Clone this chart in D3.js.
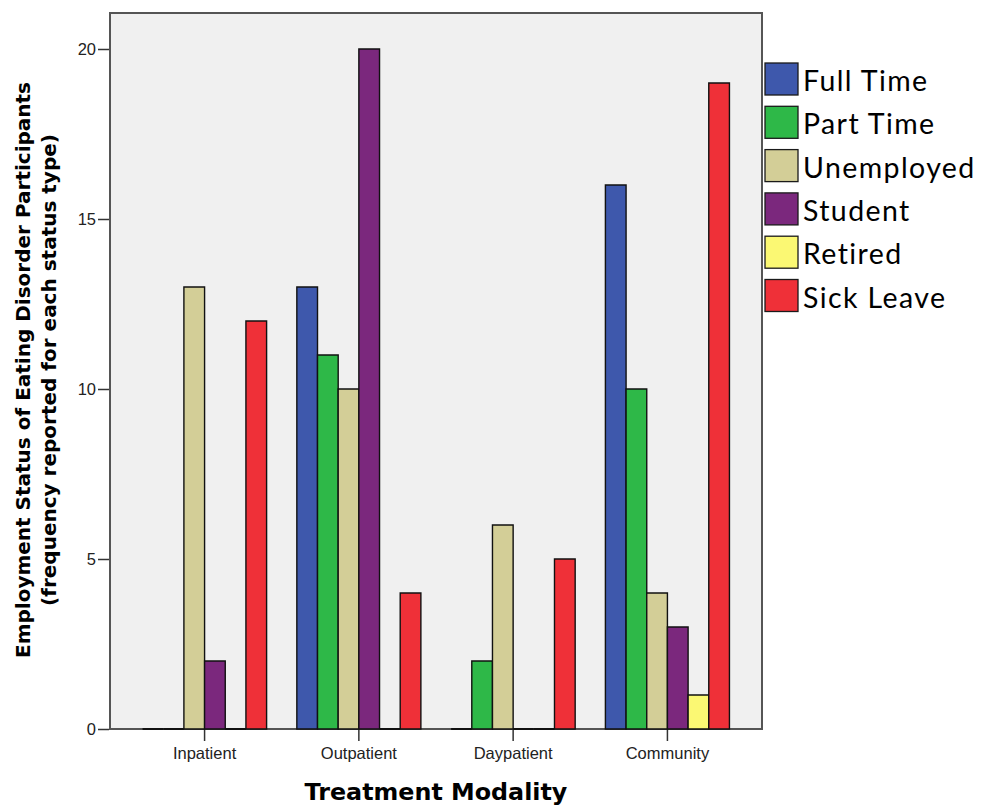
<!DOCTYPE html>
<html>
<head>
<meta charset="utf-8">
<script src="https://cdn.jsdelivr.net/npm/d3@7"></script>
<style>
  body { margin: 0; background: #fff; }
  .tick text { font-family: "Liberation Sans", Arial, sans-serif; font-size: 16.5px; fill: #222; }
  .axisTitle { font-family: "DejaVu Sans", Verdana, sans-serif; font-weight: bold; fill: #000; }
  .legendText { font-family: Lato, "Open Sans", sans-serif; font-size: 28.5px; letter-spacing: 1.4px; fill: #000; }
</style>
</head>
<body>
<div id="chart"></div>
<script>
// treatment modalities (x categories)
var modalities = ["Inpatient", "Outpatient", "Daypatient", "Community"];

// employment status series, one value per modality
var statuses = ["Full Time", "Part Time", "Unemployed", "Student", "Retired", "Sick Leave"];
var fullTime   = [0, 13, 0, 16];
var partTime   = [0, 11, 2, 10];
var unemployed = [13, 10, 6, 4];
var student    = [2, 20, 0, 3];
var retired    = [0, 0, 0, 1];
var sickLeave  = [12, 4, 5, 19];

var statusColors = ["#3e58ac", "#2eb848", "#d3ce97", "#7b287d", "#fbf873", "#ef3038"];
var yTicks = [0, 5, 10, 15, 20];

var seriesValues = [fullTime, partTime, unemployed, student, retired, sickLeave];

var width = 984,
    height = 805;

var plot = { left: 110, right: 762, top: 13, bottom: 729 };

var svg = d3.select("#chart")
    .append("svg")
    .attr("width", width)
    .attr("height", height);

// plot background + frame
svg.append("rect")
    .attr("x", plot.left)
    .attr("y", plot.top)
    .attr("width", plot.right - plot.left)
    .attr("height", plot.bottom - plot.top)
    .attr("fill", "#f0f0f0")
    .attr("stroke", "#555")
    .attr("stroke-width", 2);

var x0 = d3.scaleBand()
    .domain(modalities)
    .range([plot.left, plot.right])
    .paddingInner(0.196)
    .paddingOuter(0.211);

var x1 = d3.scaleBand()
    .domain(statuses)
    .range([0, x0.bandwidth()]);

var y = d3.scaleLinear()
    .domain([0, 20])
    .range([plot.bottom, 49]);

var color = d3.scaleOrdinal()
    .domain(statuses)
    .range(statusColors);

// flatten into one row per bar
var bars = [];
modalities.forEach(function(m, i) {
    statuses.forEach(function(s, j) {
        bars.push({ modality: m, status: s, value: seriesValues[j][i] });
    });
});

// bars drawn as paths so zero values still show as a black line on the baseline
svg.append("g")
    .selectAll("path")
    .data(bars)
    .enter()
    .append("path")
    .attr("d", function(d) {
        var bx = x0(d.modality) + x1(d.status),
            bw = x1.bandwidth(),
            top = y(d.value),
            base = y(0);
        return "M" + bx + "," + base + "V" + top + "H" + (bx + bw) + "V" + base + "Z";
    })
    .attr("fill", d => color(d.status))
    .attr("stroke", "#111")
    .attr("stroke-width", d => d.value == 0 ? 2.2 : 1.4);

// y axis
var yAxis = svg.append("g")
    .attr("transform", "translate(" + (plot.left - 1) + ",0)")
    .call(d3.axisLeft(y).tickValues(yTicks).tickSize(11).tickPadding(2));
yAxis.select(".domain").remove();
yAxis.selectAll(".tick line").attr("stroke", "#333").attr("stroke-width", 1.5);

// x axis
var xAxis = svg.append("g")
    .attr("transform", "translate(0," + (plot.bottom + 1) + ")")
    .call(d3.axisBottom(x0).tickSize(11).tickPadding(6));
xAxis.select(".domain").remove();
xAxis.selectAll(".tick line").attr("stroke", "#333").attr("stroke-width", 1.5);

// axis titles
svg.append("text")
    .attr("class", "axisTitle")
    .attr("x", 436)
    .attr("y", 800)
    .attr("text-anchor", "middle")
    .attr("font-size", "23.8px")
    .text("Treatment Modality");

var yTitle = svg.append("text")
    .attr("class", "axisTitle")
    .attr("transform", "translate(30,370) rotate(-90)")
    .attr("text-anchor", "middle")
    .attr("font-size", "20px");
yTitle.append("tspan")
    .attr("x", 0)
    .attr("dy", 0)
    .text("Employment Status of Eating Disorder Participants");
yTitle.append("tspan")
    .attr("x", 0)
    .attr("dy", "1.3em")
    .text("(frequency reported for each status type)");

// legend
var legend = svg.append("g")
    .selectAll("g")
    .data(statuses)
    .enter()
    .append("g")
    .attr("transform", (d, i) => "translate(765," + (63 + i * 43.3) + ")");

legend.append("rect")
    .attr("width", 33)
    .attr("height", 32)
    .attr("fill", d => color(d))
    .attr("stroke", "#1a1a1a")
    .attr("stroke-width", 1.3);

legend.append("text")
    .attr("class", "legendText")
    .attr("x", 38)
    .attr("y", 28)
    .text(d => d);
</script>
</body>
</html>
